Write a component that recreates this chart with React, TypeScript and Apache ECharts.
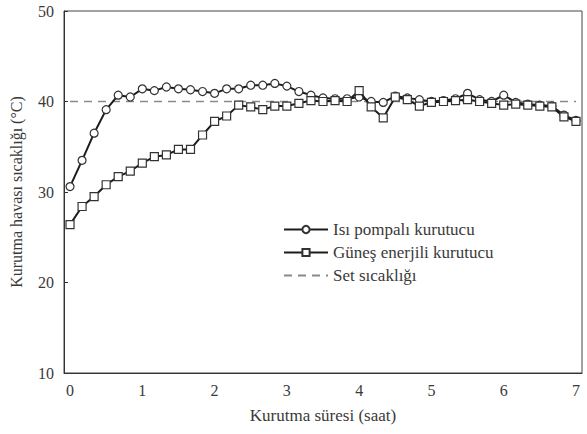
import React, { useEffect, useRef } from "react";
import * as echarts from "echarts";

const timeMinutes = [
  "0", "10", "20", "30", "40", "50", "60", "70", "80", "90", "100", "110", "120", "130", "140",
  "150", "160", "170", "180", "190", "200", "210", "220", "230", "240", "250", "260", "270", "280",
  "290", "300", "310", "320", "330", "340", "350", "360", "370", "380", "390", "400", "410", "420",
];

const heatPump = [
  30.6, 33.5, 36.5, 39.1, 40.7, 40.5, 41.4, 41.2, 41.6, 41.4, 41.3, 41.1, 40.9, 41.4, 41.4,
  41.8, 41.8, 42.0, 41.7, 41.1, 40.7, 40.4, 40.3, 40.3, 40.5, 40.0, 39.9, 40.6, 40.4,
  40.2, 40.0, 40.1, 40.3, 40.9, 40.2, 40.0, 40.7, 39.9, 39.7, 39.6, 39.5, 38.5, 37.9,
];

const solar = [
  26.4, 28.4, 29.5, 30.8, 31.7, 32.3, 33.2, 33.9, 34.1, 34.7, 34.7, 36.3, 37.8, 38.4, 39.6,
  39.4, 39.1, 39.5, 39.5, 39.8, 40.1, 40.0, 40.1, 40.0, 41.2, 39.4, 38.2, 40.5, 40.2,
  39.5, 39.9, 40.0, 40.1, 40.2, 40.0, 39.8, 39.6, 39.7, 39.6, 39.5, 39.4, 38.3, 37.8,
];

const setTemp = [
  40, 40, 40, 40, 40, 40, 40, 40, 40, 40, 40, 40, 40, 40, 40,
  40, 40, 40, 40, 40, 40, 40, 40, 40, 40, 40, 40, 40, 40,
  40, 40, 40, 40, 40, 40, 40, 40, 40, 40, 40, 40, 40, 40,
];

const seriesNames = ["Isı pompalı kurutucu", "Güneş enerjili kurutucu", "Set sıcaklığı"];
const xTitle = "Kurutma süresi (saat)";
const yTitle = "Kurutma havası sıcaklığı (°C)";

const FONT = "Liberation Serif";
const TEXT = "#3a3a3a";
const LINE = "#1c1c1c";

export default function App() {
  const ref = useRef<HTMLDivElement>(null);
  useEffect(() => {
    if (!ref.current) return;
    const chart = echarts.init(ref.current, undefined, { renderer: "svg" });
    chart.setOption({
      animation: false,
      backgroundColor: "#ffffff",
      textStyle: { fontFamily: FONT },
      grid: {
        left: 63,
        right: 5,
        top: 11,
        bottom: 61,
        show: true,
        borderColor: "#444",
        borderWidth: 1,
        backgroundColor: "transparent",
      },
      legend: {
        orient: "vertical",
        left: 283,
        top: 221,
        padding: 0,
        itemWidth: 44,
        itemHeight: 9,
        itemGap: 6,
        textStyle: { fontFamily: FONT, fontSize: 17, color: TEXT },
        data: [
          seriesNames[0],
          seriesNames[1],
          { name: seriesNames[2], itemStyle: { opacity: 0 } },
        ],
      },
      xAxis: {
        type: "category",
        data: timeMinutes,
        boundaryGap: true,
        name: xTitle,
        nameLocation: "middle",
        nameGap: 34,
        nameTextStyle: { fontFamily: FONT, fontSize: 17, color: TEXT },
        axisLine: { lineStyle: { color: "#333", width: 1 } },
        axisTick: { inside: true, interval: 0, length: 5, alignWithLabel: false, lineStyle: { color: "#333" } },
        axisLabel: {
          interval: 5,
          margin: 9,
          fontFamily: FONT,
          fontSize: 16,
          color: TEXT,
          formatter: (v: string) => String(Number(v) / 60),
        },
        splitLine: { show: false },
      },
      yAxis: {
        type: "value",
        min: 10,
        max: 50,
        interval: 10,
        name: yTitle,
        nameLocation: "middle",
        nameGap: 40,
        nameRotate: 90,
        nameTextStyle: { fontFamily: FONT, fontSize: 16, color: TEXT },
        axisLine: { show: true, lineStyle: { color: "#333", width: 1 } },
        axisTick: { show: true, inside: true, length: 4, lineStyle: { color: "#333" } },
        axisLabel: { margin: 10, fontFamily: FONT, fontSize: 16, color: TEXT },
        splitLine: { show: false },
      },
      series: [
        {
          name: seriesNames[0],
          type: "line",
          data: heatPump,
          symbol: "circle",
          symbolSize: 8,
          showAllSymbol: true,
          lineStyle: { color: LINE, width: 2 },
          itemStyle: { color: "#ffffff", borderColor: "#333", borderWidth: 1.2 },
          z: 3,
        },
        {
          name: seriesNames[1],
          type: "line",
          data: solar,
          symbol: "rect",
          symbolSize: 8,
          showAllSymbol: true,
          lineStyle: { color: LINE, width: 2 },
          itemStyle: { color: "#ffffff", borderColor: "#333", borderWidth: 1.2 },
          z: 4,
        },
        {
          name: seriesNames[2],
          type: "line",
          data: setTemp,
          symbol: "none",
          lineStyle: { color: "#8a8a8a", width: 1.3, type: [8, 6] },
          itemStyle: { color: "#8a8a8a" },
          z: 2,
        },
      ],
    });
    return () => chart.dispose();
  }, []);
  return (
    <div
      ref={ref}
      style={{ position: "fixed", left: 0, top: 0, width: 587, height: 434, background: "#fff" }}
    />
  );
}
